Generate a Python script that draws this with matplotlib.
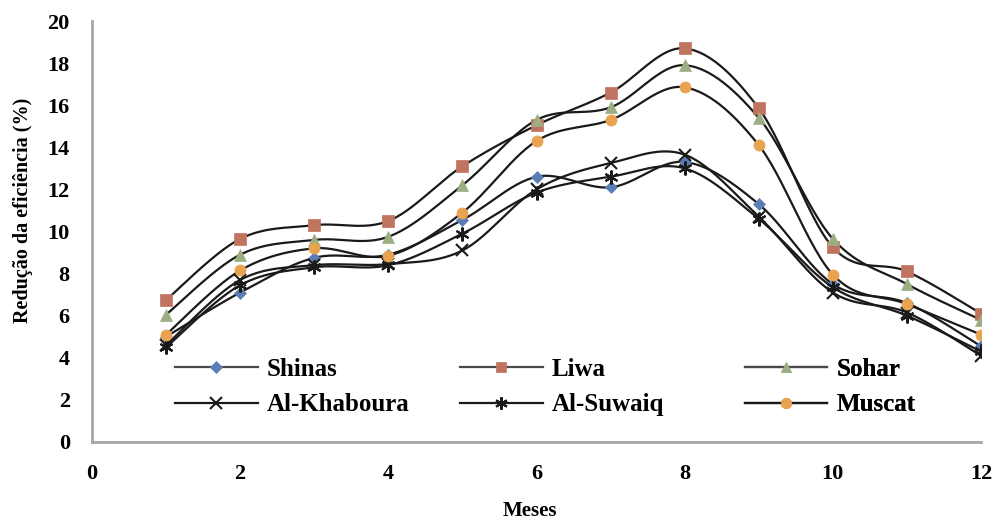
"Efficiency reduction per month, smoothed lines"

import matplotlib
matplotlib.use("Agg")
import matplotlib.pyplot as plt
import numpy as np

months = [1, 2, 3, 4, 5, 6, 7, 8, 9, 10, 11, 12]
shinas = [5.0, 7.1, 8.75, 8.9, 10.55, 12.6, 12.1, 13.3, 11.3, 7.5, 6.6, 4.55]
liwa = [6.75, 9.65, 10.3, 10.5, 13.1, 15.05, 16.6, 18.7, 15.85, 9.25, 8.1, 6.1]
sohar = [6.05, 8.9, 9.6, 9.75, 12.2, 15.3, 15.9, 17.9, 15.4, 9.65, 7.5, 5.8]
al_khaboura = [4.6, 7.7, 8.4, 8.45, 9.1, 12.0, 13.25, 13.65, 10.7, 7.1, 6.15, 4.1]
al_suwaiq = [4.5, 7.45, 8.3, 8.4, 9.9, 11.85, 12.6, 13.0, 10.6, 7.35, 6.0, 4.3]
muscat = [5.1, 8.15, 9.2, 8.85, 10.9, 14.3, 15.3, 16.85, 14.1, 7.95, 6.55, 5.1]

names = ["Shinas", "Liwa", "Sohar", "Al-Khaboura", "Al-Suwaiq", "Muscat"]
series = [shinas, liwa, sohar, al_khaboura, al_suwaiq, muscat]
markers = ["D", "s", "^", "x", (6, 2, 0), "o"]
colors = ["#5B7DB5", "#C0735E", "#9BAF82", "#1A1A1A", "#1A1A1A", "#E9A350"]
sizes = [6.5, 8, 8, 9, 10, 8]
leg_sizes = [6, 7, 7, 8, 9, 7.5]
leg_lines = ["#4A4A4A", "#4A4A4A", "#4A4A4A", "#1A1A1A", "#1A1A1A", "#1A1A1A"]


def smooth(x, y, n=30):
    # Excel style smoothing: bezier segments with catmull-rom control points
    x = np.asarray(x, float)
    y = np.asarray(y, float)
    px = np.concatenate([[x[0]], x, [x[-1]]])
    py = np.concatenate([[y[0]], y, [y[-1]]])
    xs, ys = [], []
    t = np.linspace(0, 1, n)
    for i in range(1, len(px) - 2):
        p0 = np.array([px[i], py[i]])
        p3 = np.array([px[i + 1], py[i + 1]])
        p1 = p0 + (p3 - np.array([px[i - 1], py[i - 1]])) / 6
        p2 = p3 - (np.array([px[i + 2], py[i + 2]]) - p0) / 6
        b = ((1 - t) ** 3)[:, None] * p0 + (3 * (1 - t) ** 2 * t)[:, None] * p1 \
            + (3 * (1 - t) * t ** 2)[:, None] * p2 + (t ** 3)[:, None] * p3
        xs.extend(b[:, 0])
        ys.extend(b[:, 1])
    return xs, ys


plt.rcParams['font.family'] = ['Liberation Serif', 'DejaVu Serif']
plt.rcParams['font.weight'] = 'bold'

fig = plt.figure(figsize=(9.98, 5.19), dpi=100)
ax = fig.add_axes([0.0922, 0.1484, 0.8908, 0.8111])

handles = []
for name, vals, m, c, s, ls, lc in zip(names, series, markers, colors, sizes,
                                       leg_sizes, leg_lines):
    sx, sy = smooth(months, vals)
    ax.plot(sx, sy, color="#1A1A1A", lw=1.6, zorder=2)
    mew = 1.5 if c == "#1A1A1A" else 0.5
    ax.plot(months, vals, ls="none", marker=m, color=c, markersize=s,
            markeredgewidth=mew, markeredgecolor=c, zorder=3)
    # proxy for the legend: line with marker in the middle
    h, = ax.plot([], [], color=lc, lw=1.6, marker=m, markerfacecolor=c,
                 markeredgecolor=c, markersize=ls, markeredgewidth=mew,
                 label=name)
    handles.append(h)

ax.set_xlim(0, 12)
ax.set_ylim(0, 20)
ax.set_xticks(range(0, 13, 2))
ax.set_yticks(range(0, 21, 2))
ax.tick_params(length=0, labelsize=16, pad=16)
for lab in ax.get_xticklabels() + ax.get_yticklabels():
    lab.set_fontweight('bold')
ax.spines['top'].set_visible(False)
ax.spines['right'].set_visible(False)
for sp in ['left', 'bottom']:
    ax.spines[sp].set_color("#A6A6A6")
    ax.spines[sp].set_linewidth(2)

ax.set_xlabel("Meses", fontsize=15, fontweight='bold')
ax.xaxis.set_label_coords(0.4927, -0.140)
ax.set_ylabel("Redução da eficiência (%)", fontsize=14.5, fontweight='bold')
ax.yaxis.set_label_coords(-0.066, 0.549)

# three one-column legends so each column sits where the original has it
col_x = [0.0934, 0.414, 0.7345]
for k, x0 in enumerate(col_x):
    pair = [handles[k], handles[k + 3]]
    leg = ax.legend(pair, [h.get_label() for h in pair], loc='center left',
                    bbox_to_anchor=(x0, 0.1306), borderaxespad=0,
                    borderpad=0, frameon=False, handlelength=3.3,
                    handletextpad=0.35, labelspacing=0.5,
                    prop={'size': 18, 'weight': 'bold'})
    ax.add_artist(leg)

fig.savefig("out.png", dpi=100)
